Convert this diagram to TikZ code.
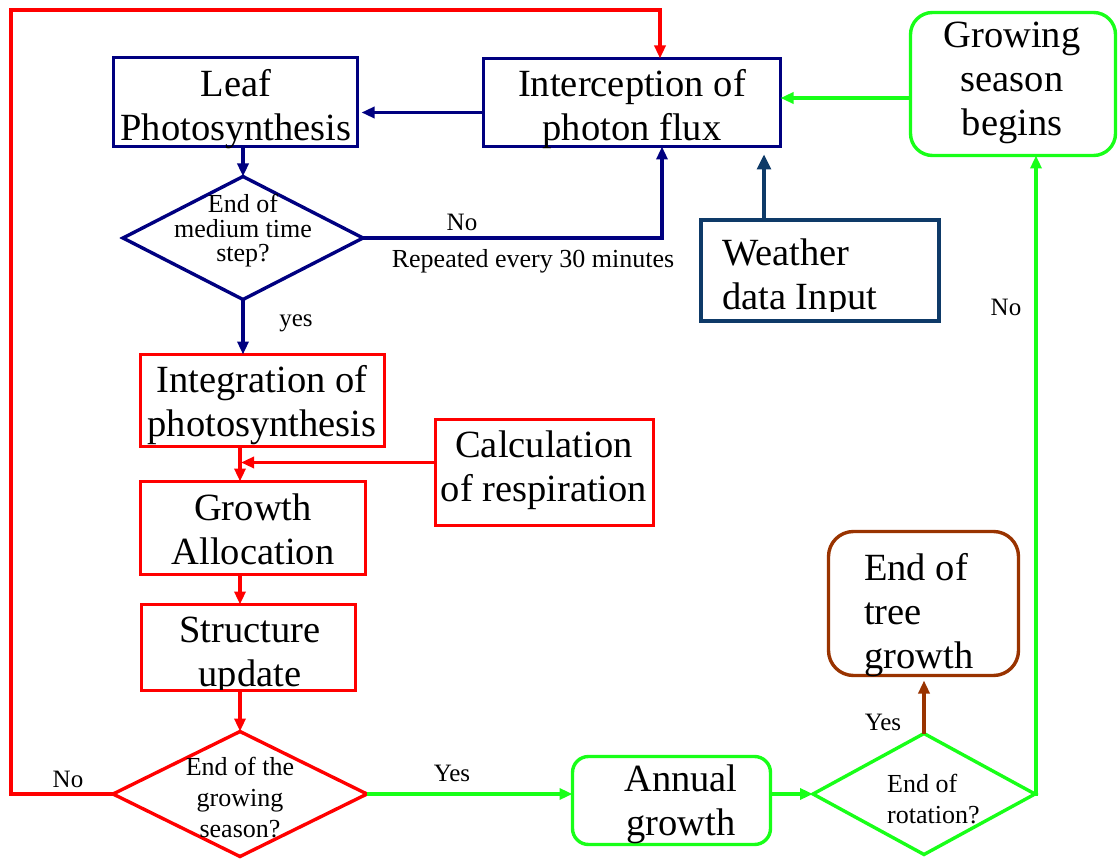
\documentclass[tikz,border=0pt]{standalone}
\usepackage{fontspec}
\setmainfont{Liberation Serif}
\usetikzlibrary{arrows.meta,shapes.geometric}

\definecolor{navy}{RGB}{0,0,128}
\definecolor{steel}{RGB}{14,58,104}
\definecolor{flowred}{RGB}{255,0,0}
\definecolor{flowgreen}{RGB}{24,255,24}
\definecolor{brownish}{RGB}{153,51,0}

\newcommand\bodyfont{\fontsize{38.5}{44}\selectfont}
\newcommand\askfont{\fontsize{26}{24.5}\selectfont}
\newcommand\askfontwide{\fontsize{26}{31}\selectfont}
\newcommand\tagfont{\fontsize{25}{30}\selectfont}

\begin{document}
\begin{tikzpicture}[x=1pt, y=-1pt,
  box/.style={draw, line width=3.4pt, inner sep=0pt, outer sep=0pt},
  dia/.style={diamond, draw, line width=3.4pt, inner sep=0pt, outer sep=0pt},
  link/.style={line width=3.2pt},
  tip/.style={-{Triangle[length=13pt,width=11pt]}},
  bigtip/.style={-{Triangle[length=15pt,width=14pt]}},
  body/.style={font=\bodyfont, align=center, anchor=base, inner sep=0pt},
  bodyleft/.style={font=\bodyfont, align=left, anchor=base west, inner sep=0pt},
  ask/.style={font=\askfont, align=center, anchor=base, inner sep=0pt},
  tag/.style={font=\tagfont, anchor=base, inner sep=0pt}]

\useasboundingbox (0,0) rectangle (1119,861);

% ---- boxes of the flow chart
\node[box, draw=navy, minimum width=244pt, minimum height=89pt] (leaf) at (235.5,102) {};
\node[box, draw=navy, minimum width=297pt, minimum height=88pt] (inter) at (632,102.5) {};
\node[box, draw=flowgreen, rounded corners=22pt, minimum width=205pt, minimum height=143pt] (grow) at (1013,84) {};
\node[dia, draw=navy, minimum width=240pt, minimum height=123pt] (d1) at (243,238) {};
\node[box, draw=steel, minimum width=238pt, minimum height=101pt] (weather) at (820,270.5) {};
\node[box, draw=flowred, minimum width=244pt, minimum height=92pt] (integ) at (262.5,400.5) {};
\node[box, draw=flowred, minimum width=218pt, minimum height=106pt] (calc) at (544.5,472.5) {};
\node[box, draw=flowred, minimum width=225pt, minimum height=93pt] (alloc) at (253,528) {};
\node[box, draw=flowred, minimum width=214pt, minimum height=86pt] (struct) at (248.5,647.5) {};
\node[dia, draw=flowred, minimum width=254pt, minimum height=125pt] (d2) at (240,794) {};
\node[box, draw=flowgreen, rounded corners=16pt, minimum width=198pt, minimum height=88pt] (annual) at (671.5,800.5) {};
\node[dia, draw=flowgreen, minimum width=222pt, minimum height=121pt] (d3) at (924,794) {};
\node[box, draw=brownish, rounded corners=25pt, minimum width=190pt, minimum height=144pt] (endtree) at (923.5,603.5) {};

% ---- texts (placed by the baseline of their last line)
\node[body] (leafT) at (236,141) {Leaf\\Photosynthesis};
\node[body] (interT) at (632,141) {Interception of\\photon flux};
\node[body] (growT) at (1012,136) {Growing\\season\\begins};
\node[ask] (d1T) at (243,261.5) {End of\\medium time\\step?};
\begin{scope}
  \clip (700,220) rectangle (940,311);
  \node[bodyleft] (weatherT) at (722,309) {Weather\\data Input};
\end{scope}
\node[body] (integT) at (262,436.5) {Integration of\\photosynthesis};
\node[body] (calcT) at (544,501.5) {Calculation\\of respiration};
\node[body] (allocT) at (253,564) {Growth\\Allocation};
\begin{scope}
  \clip (142,606) rectangle (356,689);
  \node[body] (structT) at (250,686) {Structure\\update};
\end{scope}
\node[ask, font=\askfontwide] (d2T) at (240,837) {End of the\\growing\\season?};
\node[body] (annualT) at (681,835) {Annual\\growth};
\node[ask, font=\askfontwide, align=left, anchor=base west] (d3T) at (887,823) {End of\\rotation?};
\node[bodyleft] (endtreeT) at (864,668) {End of\\tree\\growth};

% ---- connectors: half-hourly loop
\draw[link, navy, tip, shorten >=4pt] ([yshift=-10pt]inter.west) -- ([yshift=-10pt]inter.west -| leaf.east);
\draw[link, navy, tip] (leaf.south -| d1.north) -- (d1.north);
\draw[link, navy, tip] (d1.east) -| ([xshift=30pt]inter.south);
\draw[link, navy, tip] (d1.south) -- (d1.south |- integ.north);
\draw[link, steel, bigtip, shorten >=8pt] ([xshift=-56pt]weather.north) -- ([xshift=-56pt]weather.north |- inter.south);
\draw[link, flowgreen, tip] ([yshift=-14pt]grow.west) -- ([yshift=-14pt]grow.west -| inter.east);

% ---- connectors: daily chain
\draw[link, flowred, tip] (integ.south -| d2.north) -- (alloc.north -| d2.north);
\draw[link, flowred, tip, shorten >=1pt] ([yshift=10pt]calc.west) -- ([yshift=10pt]calc.west -| d2.north);
\draw[link, flowred, tip] (alloc.south -| d2.north) -- (struct.north -| d2.north);
\draw[link, flowred, tip] (struct.south -| d2.north) -- (d2.north);

% ---- connectors: seasonal and rotation loops
\coordinate (loopcorner) at (11,10);
\draw[link, flowred, tip] (d2.west) -| (loopcorner) -| ([xshift=28pt]inter.north);
\draw[link, flowgreen, tip] (d2.east) -- (d2.east -| annual.west);
\draw[link, flowgreen, tip] (annual.east |- d3.west) -- (d3.west);
\draw[link, brownish, tip, shorten >=5pt] (d3.north) -- (d3.north |- endtree.south);
\draw[link, flowgreen, tip] (d3.east) -| ([xshift=23pt]grow.south);

% ---- labels on the connectors
\node[tag] (noA) at (462,230) {No};
\node[tag, font=\fontsize{26}{30}\selectfont] (every) at (533,267) {Repeated every 30 minutes};
\node[tag] (yesA) at (296,326) {yes};
\node[tag] (noB) at (68,787) {No};
\node[tag] (yesB) at (452,781) {Yes};
\node[tag] (yesC) at (883,730) {Yes};
\node[tag] (noC) at (1006,315) {No};
\end{tikzpicture}
\end{document}
